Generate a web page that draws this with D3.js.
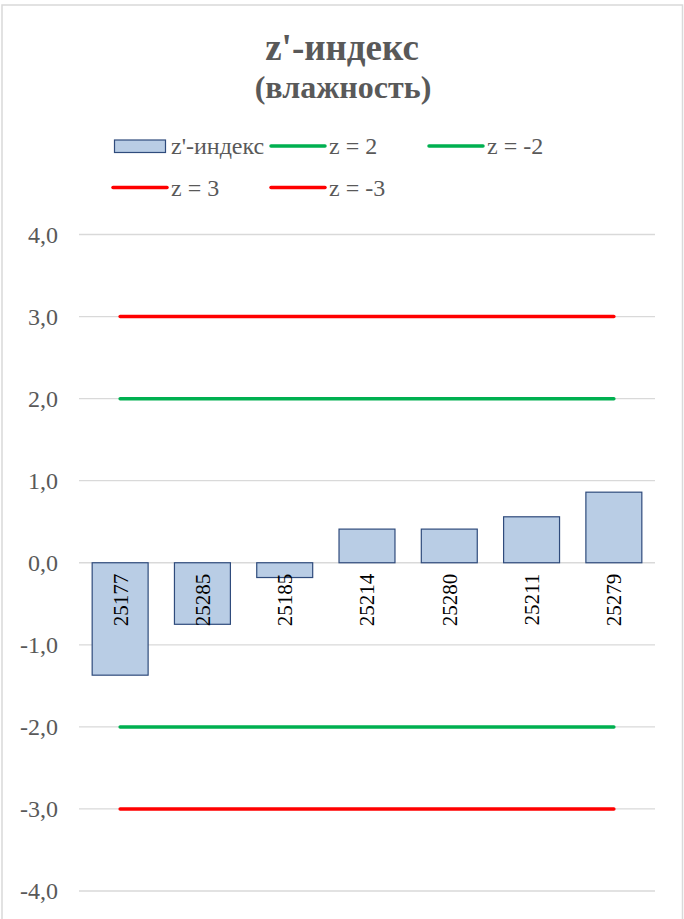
<!DOCTYPE html>
<html>
<head>
<meta charset="utf-8">
<script src="https://cdn.jsdelivr.net/npm/d3@7"></script>
<style>
  body { margin: 0; background: #fff; }
</style>
</head>
<body>
<div id="chart"></div>
<script>
// data
const categories = ["25177", "25285", "25185", "25214", "25280", "25211", "25279"]
const zValues = [-1.37, -0.75, -0.18, 0.41, 0.41, 0.56, 0.86]
const limitNames = ["z = 2", "z = -2", "z = 3", "z = -3"]
const limitValues = [2, -2, 3, -3]
const limitColors = ["#00b050", "#00b050", "#ff0000", "#ff0000"]
const yTicks = [-4, -3, -2, -1, 0, 1, 2, 3, 4]

const width = 684, height = 919
const grey = "#595959"
const serif = "'Liberation Serif', 'Times New Roman', Tinos, 'DejaVu Serif', serif"

let svg = d3.select("#chart")
    .append("svg")
    .attr("width", width)
    .attr("height", height)
    .style("font-family", serif)

// chart border
svg.append("rect")
    .attr("x", 2).attr("y", 5)
    .attr("width", 680.5).attr("height", 930)
    .attr("fill", "#fff")
    .attr("stroke", "#d9d9d9")
    .attr("stroke-width", 1.5)

// title
svg.append("text")
    .attr("x", 342).attr("y", 60)
    .attr("text-anchor", "middle")
    .attr("fill", grey)
    .style("font-family", serif)
    .style("font-size", "37px")
    .style("font-weight", "bold")
    .text("z'-индекс")
svg.append("text")
    .attr("x", 343).attr("y", 98)
    .attr("text-anchor", "middle")
    .attr("fill", grey)
    .style("font-family", serif)
    .style("font-size", "32px")
    .style("font-weight", "bold")
    .text("(влажность)")

// scales
let x = d3.scaleBand()
    .domain(categories)
    .range([79, 655])
    .paddingInner(0.32)
    .paddingOuter(0.16)

let y = d3.scaleLinear()
    .domain([-4, 4])
    .range([891, 234.5])

// gridlines
svg.append("g")
    .selectAll("line")
    .data(yTicks)
    .join("line")
    .attr("x1", 79).attr("x2", 655)
    .attr("y1", d => y(d)).attr("y2", d => y(d))
    .attr("stroke", "#d9d9d9")
    .attr("stroke-width", 1.3)

// y axis labels
svg.append("g")
    .attr("transform", "translate(58,0)")
    .call(d3.axisLeft(y).tickValues(yTicks).tickSize(0).tickPadding(0)
        .tickFormat(d => d3.format(".1f")(d).replace(".", ",").replace("−", "-")))
    .attr("font-family", serif)
    .call(g => g.select(".domain").remove())
    .call(g => g.selectAll("text")
        .attr("fill", grey)
        .style("font-size", "24px")
        .style("font-family", serif))

// bars
svg.append("g")
    .selectAll("rect")
    .data(zValues)
    .join("rect")
    .attr("x", (d, i) => x(categories[i]))
    .attr("width", x.bandwidth())
    .attr("y", d => y(Math.max(0, d)))
    .attr("height", d => Math.abs(y(d) - y(0)))
    .attr("fill", "#b9cde5")
    .attr("stroke", "#2f4b7c")
    .attr("stroke-width", 1.2)

// category labels, rotated, just below the zero line
svg.append("g")
    .selectAll("text")
    .data(categories)
    .join("text")
    .attr("transform", d => `translate(${x(d) + x.bandwidth() / 2},${y(0) + 11}) rotate(-90)`)
    .attr("text-anchor", "end")
    .attr("dy", "0.35em")
    .attr("fill", "#000")
    .style("font-family", serif)
    .style("font-size", "21px")
    .text(d => d)

// limit lines
let xFirst = x(categories[0]) + x.bandwidth() / 2
let xLast = x(categories[categories.length - 1]) + x.bandwidth() / 2
svg.append("g")
    .selectAll("line")
    .data(limitValues)
    .join("line")
    .attr("x1", xFirst).attr("x2", xLast)
    .attr("y1", d => y(d)).attr("y2", d => y(d))
    .attr("stroke", (d, i) => limitColors[i])
    .attr("stroke-width", 3.5)
    .attr("stroke-linecap", "round")

// legend
let legend = svg.append("g")
legend.append("rect")
    .attr("x", 114.5).attr("y", 140)
    .attr("width", 51).attr("height", 12.5)
    .attr("fill", "#b9cde5")
    .attr("stroke", "#2f4b7c")
    .attr("stroke-width", 1.2)
legend.append("text")
    .attr("x", 171).attr("y", 146)
    .attr("dy", "0.35em")
    .attr("fill", grey)
    .style("font-family", serif)
    .style("font-size", "24px")
    .text("z'-индекс")

const legendPos = [[271, 146], [429, 146], [113, 187.5], [271, 187.5]]
limitNames.forEach((name, i) => {
    let [lx, ly] = legendPos[i]
    legend.append("line")
        .attr("x1", lx).attr("x2", lx + 54)
        .attr("y1", ly).attr("y2", ly)
        .attr("stroke", limitColors[i])
        .attr("stroke-width", 3.5)
        .attr("stroke-linecap", "round")
    legend.append("text")
        .attr("x", lx + 58).attr("y", ly)
        .attr("dy", "0.35em")
        .attr("fill", grey)
        .style("font-family", serif)
        .style("font-size", "24px")
        .text(name)
})
</script>
</body>
</html>
